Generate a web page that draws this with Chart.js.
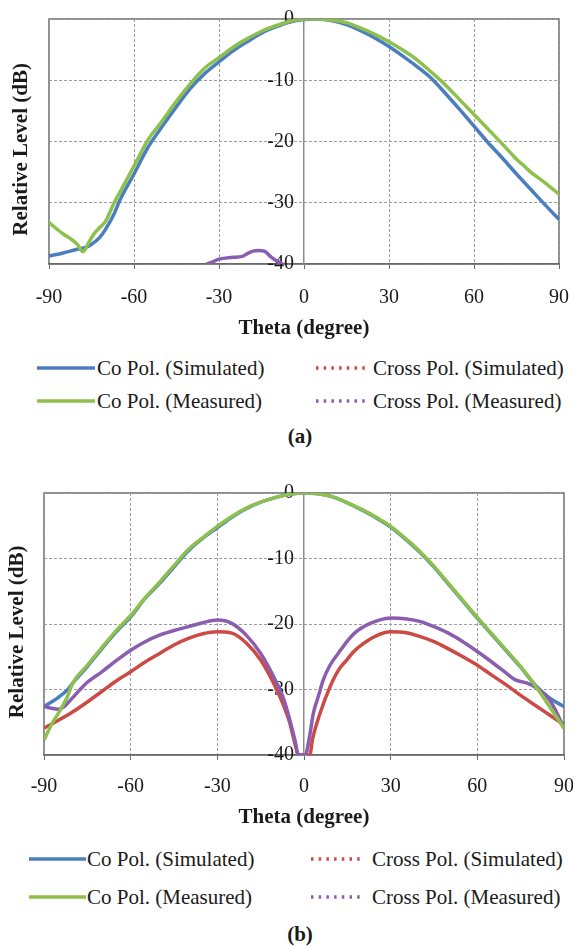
<!DOCTYPE html>
<html>
<head>
<meta charset="utf-8">
<script src="https://cdn.jsdelivr.net/npm/chart.js@4.4.0/dist/chart.umd.min.js"></script>
<style>
  html, body { margin: 0; padding: 0; background: #fff; }
  body { width: 573px; height: 947px; position: relative; overflow: hidden;
         font-family: "Liberation Serif", "Times New Roman", serif; color: #1a1a1a; }
  .box { position: absolute; left: 0; width: 573px; }
  .item { position: absolute; height: 26px; line-height: 26px; font-size: 21px; white-space: nowrap; }
  .item svg { position: absolute; left: 0; top: 11px; }
  .caption { position: absolute; left: 0; width: 600px; text-align: center; font-weight: bold; font-size: 21px; }
</style>
</head>
<body>

<div class="box" style="top:0;height:345px"><canvas id="chartA"></canvas></div>
<div id="legendA"></div>
<div class="caption" style="top:424px">(a)</div>

<div class="box" style="top:470px;height:370px"><canvas id="chartB"></canvas></div>
<div id="legendB"></div>
<div class="caption" style="top:922px">(b)</div>

<script>
// ---- data (theta in degrees, level in dB) ----

// (a)
const thetaCoSimA = [-90, -85, -80, -77, -75, -72, -70, -67, -65, -60, -55, -50, -45, -40, -35, -30, -25, -20, -15, -10, -5, 0, 5, 10, 15, 20, 25, 30, 35, 40, 45, 50, 55, 60, 65, 70, 75, 80, 85, 90];
const coSimA = [-38.7, -38.2, -37.6, -37.3, -36.8, -35.6, -34.3, -31.8, -29.6, -25.3, -20.9, -17.5, -14.3, -11.3, -8.9, -7.0, -5.2, -3.7, -2.3, -1.3, -0.5, -0.1, 0, -0.3, -0.9, -1.9, -3.1, -4.5, -6.1, -7.8, -9.7, -12.2, -14.8, -17.5, -20.2, -22.7, -25.3, -27.8, -30.3, -32.7];

const thetaCoMeasA = [-90, -88, -85, -82, -80, -78, -76, -74, -72, -70, -67, -65, -60, -55, -50, -45, -40, -35, -30, -25, -20, -15, -10, -5, 0, 5, 10, 15, 20, 25, 30, 35, 40, 45, 50, 55, 60, 65, 70, 73, 75, 77, 80, 85, 90];
const coMeasA = [-33.2, -34.0, -35.1, -36.0, -36.8, -38.0, -36.5, -35.0, -34.0, -33.0, -30.0, -28.3, -24.0, -19.7, -16.6, -13.4, -10.5, -8.0, -6.3, -4.6, -3.2, -2.0, -1.1, -0.4, 0, 0, -0.2, -0.6, -1.5, -2.5, -3.7, -5.1, -6.7, -8.7, -10.8, -13.2, -15.6, -18.0, -20.4, -21.9, -22.9, -23.7, -25.0, -26.7, -28.6];

const thetaCrossSimA = [];
const crossSimA = [];

const thetaCrossMeasA = [-34.3, -32, -30, -27, -25, -22, -20, -18, -16, -14, -12, -10, -7.5];
const crossMeasA = [-40, -39.6, -39.2, -39.0, -38.9, -38.8, -38.3, -37.9, -37.8, -37.9, -38.7, -39.4, -40];

// (b)
const thetaCoSimB = [-90, -87, -85, -82, -80, -75, -70, -65, -60, -55, -50, -45, -40, -35, -30, -25, -20, -15, -10, -5, 0, 5, 10, 15, 20, 25, 30, 35, 40, 45, 50, 55, 60, 65, 70, 75, 80, 85, 90];
const coSimB = [-32.6, -31.8, -31.2, -30.1, -29.0, -26.5, -23.8, -21.2, -18.9, -16.1, -13.8, -11.3, -8.8, -6.9, -5.3, -3.7, -2.4, -1.4, -0.7, -0.2, 0, -0.1, -0.6, -1.5, -2.6, -3.8, -5.2, -7.0, -9.0, -11.3, -13.9, -16.5, -19.1, -21.6, -24.1, -26.6, -29.3, -31.3, -32.6];

const thetaCoMeasB = [-90, -87, -85, -82, -80, -75, -70, -65, -60, -55, -50, -45, -40, -35, -30, -25, -20, -15, -10, -5, 0, 5, 10, 15, 20, 25, 30, 35, 40, 45, 50, 55, 60, 65, 70, 75, 80, 85, 90];
const coMeasB = [-37.7, -35.0, -33.6, -31.2, -29.0, -26.3, -23.6, -21.0, -18.7, -16.0, -13.6, -11.1, -8.6, -6.8, -5.1, -3.6, -2.3, -1.4, -0.7, -0.2, 0, -0.1, -0.6, -1.5, -2.5, -3.7, -5.1, -6.9, -8.9, -11.2, -13.8, -16.4, -19.0, -21.5, -24.0, -26.5, -29.4, -32.6, -35.9];

const thetaCrossSimB = [-90, -85, -80, -75, -70, -65, -60, -55, -50, -45, -40, -35, -30, -25, -20, -15, -10, -7, -5, -3, -2, 2, 3, 5.5, 9, 12, 15, 17, 20.5, 25, 30, 35, 40, 45, 50, 55, 60, 65, 70, 75, 80, 85, 90];
const crossSimB = [-35.9, -34.7, -33.4, -31.9, -30.3, -28.7, -27.3, -25.8, -24.5, -23.2, -22.2, -21.5, -21.2, -21.4, -22.9, -25.5, -29.5, -32.5, -35.0, -38.5, -40, -40, -37.5, -33.7, -29.6, -27.0, -25.4, -24.3, -23.0, -21.8, -21.2, -21.3, -21.9, -22.7, -23.8, -25.0, -26.3, -27.8, -29.3, -30.9, -32.4, -33.9, -35.4];

const thetaCrossMeasB = [-90, -87, -85, -83, -80, -77.5, -75, -70, -65, -60, -55, -50, -45, -40, -35, -30, -25, -20, -15, -10, -7, -5, -3, -2, 0.4, 2, 3.2, 5, 6.6, 9, 12, 15, 18, 22, 26, 30, 35, 40, 45, 50, 55, 60, 65, 70, 73, 77, 80, 83, 85, 87, 90];
const crossMeasB = [-32.6, -32.9, -33.0, -32.6, -31.2, -30.0, -28.9, -27.3, -25.6, -24.0, -22.7, -21.7, -21.0, -20.4, -19.8, -19.4, -19.9, -21.7, -24.5, -28.5, -31.5, -34.5, -38.0, -40, -40, -37.0, -33.7, -31.0, -28.6, -26.3, -24.4, -22.6, -21.2, -20.1, -19.4, -19.1, -19.2, -19.6, -20.4, -21.4, -22.7, -24.2, -25.8, -27.5, -28.5, -29.0, -29.6, -30.6, -31.6, -33.1, -35.9];

const xTicks = [-90, -60, -30, 0, 30, 60, 90];
const yTicks = [0, -10, -20, -30, -40];

const seriesNames = ['Co Pol. (Simulated)', 'Co Pol. (Measured)', 'Cross Pol. (Simulated)', 'Cross Pol. (Measured)'];
const seriesColors = ['#4a7ebf', '#8dc04c', '#cc4a45', '#8a5db0'];

// ---- helpers ----
const SERIF = '"Liberation Serif", "Times New Roman", serif';
const pairs = (xs, ys) => xs.map((x, i) => ({x: x, y: ys[i]}));

// plot area frame, drawn under grid and labels
const plotFrame = {
    id: 'plotFrame',
    beforeDraw(chart) {
        const {ctx, chartArea: a} = chart;
        ctx.save();
        ctx.strokeStyle = '#6a6a6a';
        ctx.lineWidth = 1.5;
        ctx.strokeRect(a.left, a.top, a.right - a.left, a.bottom - a.top);
        ctx.restore();
    }
};

function makeChart(canvasId, sets, lay) {
    // draw order: red, blue, purple, green on top
    const order = [3, 1, 4, 2];
    const datasets = sets.map((s, i) => ({
        label: seriesNames[i],
        data: pairs(s[0], s[1]),
        borderColor: seriesColors[i],
        borderWidth: 3.5,
        pointRadius: 0,
        cubicInterpolationMode: 'monotone',
        fill: false,
        order: order[i]
    }));

    return new Chart(document.getElementById(canvasId), {
        type: 'line',
        data: {datasets: datasets},
        options: {
            responsive: true,
            maintainAspectRatio: false,
            animation: false,
            layout: {padding: {top: lay.top, right: lay.right, left: 0, bottom: 0}},
            plugins: {legend: {display: false}, tooltip: {enabled: false}},
            scales: {
                x: {
                    type: 'linear',
                    min: -90, max: 90,
                    afterBuildTicks: s => { s.ticks = xTicks.map(v => ({value: v})); },
                    ticks: {
                        font: {family: SERIF, size: 20},
                        color: '#1a1a1a',
                        padding: lay.xPad,
                        maxRotation: 0,
                        autoSkip: false
                    },
                    grid: {
                        color: c => (c.tick && c.tick.value === 0) ? 'rgba(0,0,0,0)' : '#9c9c9c',
                        lineWidth: 1,
                        tickColor: '#6a6a6a',
                        tickLength: 5
                    },
                    border: {display: true, color: '#6a6a6a', width: 1.5, dash: [3, 2]},
                    title: {
                        display: true,
                        text: 'Theta (degree)',
                        font: {family: SERIF, size: 21, weight: 'bold'},
                        color: '#1a1a1a',
                        padding: {top: 0, bottom: lay.xTitlePad}
                    },
                    // fixed axis height; side margins come from layout padding only
                    afterFit: s => {
                        s.height = lay.xHeight;
                        s.paddingLeft = 0;
                        s.paddingRight = 0;
                    }
                },
                y: {
                    type: 'linear',
                    position: {x: 0},
                    min: -40, max: 0,
                    afterBuildTicks: s => { s.ticks = yTicks.map(v => ({value: v})); },
                    ticks: {
                        font: {family: SERIF, size: 20},
                        color: '#1a1a1a',
                        callback: v => v + '  '
                    },
                    grid: {color: '#9c9c9c', lineWidth: 1, drawTicks: false},
                    border: {display: true, color: '#8c8c8c', width: 1.5, dash: [3, 2]}
                },
                yTitle: {
                    type: 'linear',
                    position: 'left',
                    min: -40, max: 0,
                    ticks: {display: false},
                    grid: {display: false, drawTicks: false},
                    border: {display: false},
                    title: {
                        display: true,
                        text: 'Relative Level (dB)   ',
                        font: {family: SERIF, size: 21, weight: 'bold'},
                        color: '#1a1a1a',
                        padding: {top: lay.yTitlePad, bottom: 0}
                    },
                    afterFit: s => { s.width = lay.left; }
                }
            }
        },
        plugins: [plotFrame]
    });
}

function makeLegend(holderId, rows, cols) {
    const holder = document.getElementById(holderId);
    seriesNames.forEach((name, i) => {
        const r = i % 2, c = i < 2 ? 0 : 1;
        const item = document.createElement('div');
        item.className = 'item';
        item.style.left = cols[c].line + 'px';
        item.style.top = (rows[r] - 13) + 'px';
        item.style.paddingLeft = (cols[c].text - cols[c].line) + 'px';
        const w = cols[c].lineW;
        const dash = c === 1 ? ' stroke-dasharray="2.5 5.2"' : '';
        item.innerHTML = '<svg width="' + w + '" height="4"><line x1="0" y1="2" x2="' + w +
            '" y2="2" stroke="' + seriesColors[i] + '" stroke-width="3.5"' + dash + '/></svg>' + name;
        holder.appendChild(item);
    });
}

makeChart('chartA', [
    [thetaCoSimA, coSimA],
    [thetaCoMeasA, coMeasA],
    [thetaCrossSimA, crossSimA],
    [thetaCrossMeasA, crossMeasA]
], {top: 19, right: 14, left: 49, xHeight: 81, xPad: 17, xTitlePad: 4, yTitlePad: 9});

makeChart('chartB', [
    [thetaCoSimB, coSimB],
    [thetaCoMeasB, coMeasB],
    [thetaCrossSimB, crossSimB],
    [thetaCrossMeasB, crossMeasB]
], {top: 23, right: 9, left: 44, xHeight: 85, xPad: 15, xTitlePad: 10, yTitlePad: 5});

makeLegend('legendA', [368, 401], [{line: 37, lineW: 58, text: 97}, {line: 316, lineW: 52, text: 373}]);
makeLegend('legendB', [859, 897], [{line: 29, lineW: 57, text: 87}, {line: 311, lineW: 52, text: 372}]);
</script>
</body>
</html>
